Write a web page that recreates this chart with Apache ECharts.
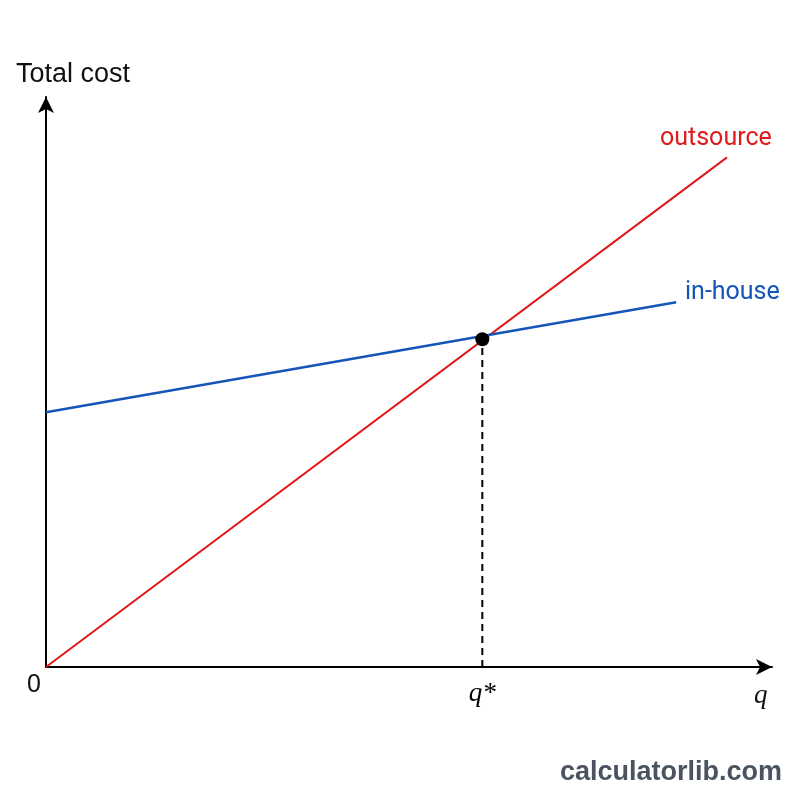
<!DOCTYPE html>
<html>
<head>
<meta charset="utf-8">
<script src="https://cdn.jsdelivr.net/npm/echarts@6/dist/echarts.min.js"></script>
<style>
html,body{margin:0;padding:0;background:#fff;}
#chart{width:800px;height:800px;}
</style>
</head>
<body>
<div id="chart"></div>
<script>
// quantity q on x, total cost on y (arbitrary units)
var outsourceLine = [[0, 0], [93.8, 89.4]];
var inHouseLine = [[0, 44.7], [86.8, 64.0]];
var breakEven = [60.1, 57.5];
var qTicks = [60.1];

var chart = echarts.init(document.getElementById('chart'));
chart.setOption({
    animation: false,
    backgroundColor: '#fff',
    grid: {
        left: 46,
        right: 28,
        top: 97,
        bottom: 133
    },
    xAxis: {
        type: 'value',
        min: 0,
        max: 100,
        splitLine: {show: false},
        axisTick: {show: false},
        axisLine: {
            show: true,
            symbol: ['none', 'arrow'],
            symbolSize: [12, 16],
            lineStyle: {color: '#000', width: 2}
        },
        axisLabel: {
            customValues: qTicks,
            margin: 13,
            formatter: function () { return 'q*'; },
            color: '#000',
            fontSize: 27,
            fontStyle: 'italic',
            fontFamily: 'Liberation Serif'
        }
    },
    yAxis: {
        type: 'value',
        min: 0,
        max: 100,
        splitLine: {show: false},
        axisTick: {show: false},
        axisLabel: {show: false},
        axisLine: {
            show: true,
            symbol: ['none', 'arrow'],
            symbolSize: [12, 16],
            lineStyle: {color: '#000', width: 2}
        }
    },
    series: [
        {
            name: 'outsource',
            type: 'line',
            data: outsourceLine,
            symbol: 'none',
            lineStyle: {color: '#e0191b', width: 2}
        },
        {
            name: 'in-house',
            type: 'line',
            data: inHouseLine,
            symbol: 'none',
            lineStyle: {color: '#1554b8', width: 2.5}
        },
        {
            name: 'drop',
            type: 'line',
            data: [[breakEven[0], 0], breakEven],
            symbol: 'none',
            lineStyle: {color: '#000', width: 2, type: [7, 5]}
        },
        {
            name: 'q*',
            type: 'scatter',
            data: [breakEven],
            symbolSize: 14,
            itemStyle: {color: '#000', opacity: 1},
            z: 10
        }
    ],
    graphic: [
        {type: 'text', left: 16, top: 61, style: {text: 'Total cost', fontSize: 27, fontFamily: 'Liberation Sans', fill: '#111'}},
        {type: 'text', left: 660, top: 126, style: {text: 'outsource', fontSize: 25, fontFamily: 'Roboto', fill: '#e0191b'}},
        {type: 'text', left: 685, top: 280, style: {text: 'in-house', fontSize: 25, fontFamily: 'Roboto', fill: '#1554b8'}},
        {type: 'text', left: 27, top: 673, style: {text: '0', fontSize: 25, fontFamily: 'Liberation Sans', fill: '#111'}},
        {type: 'text', left: 754, top: 682, style: {text: 'q', fontSize: 27, fontStyle: 'italic', fontFamily: 'Liberation Serif', fill: '#111'}},
        {type: 'text', left: 560, top: 759, style: {text: 'calculatorlib.com', fontSize: 27, fontWeight: 'bold', fontFamily: 'Liberation Sans', fill: '#4b5260'}}
    ]
});
</script>
</body>
</html>
